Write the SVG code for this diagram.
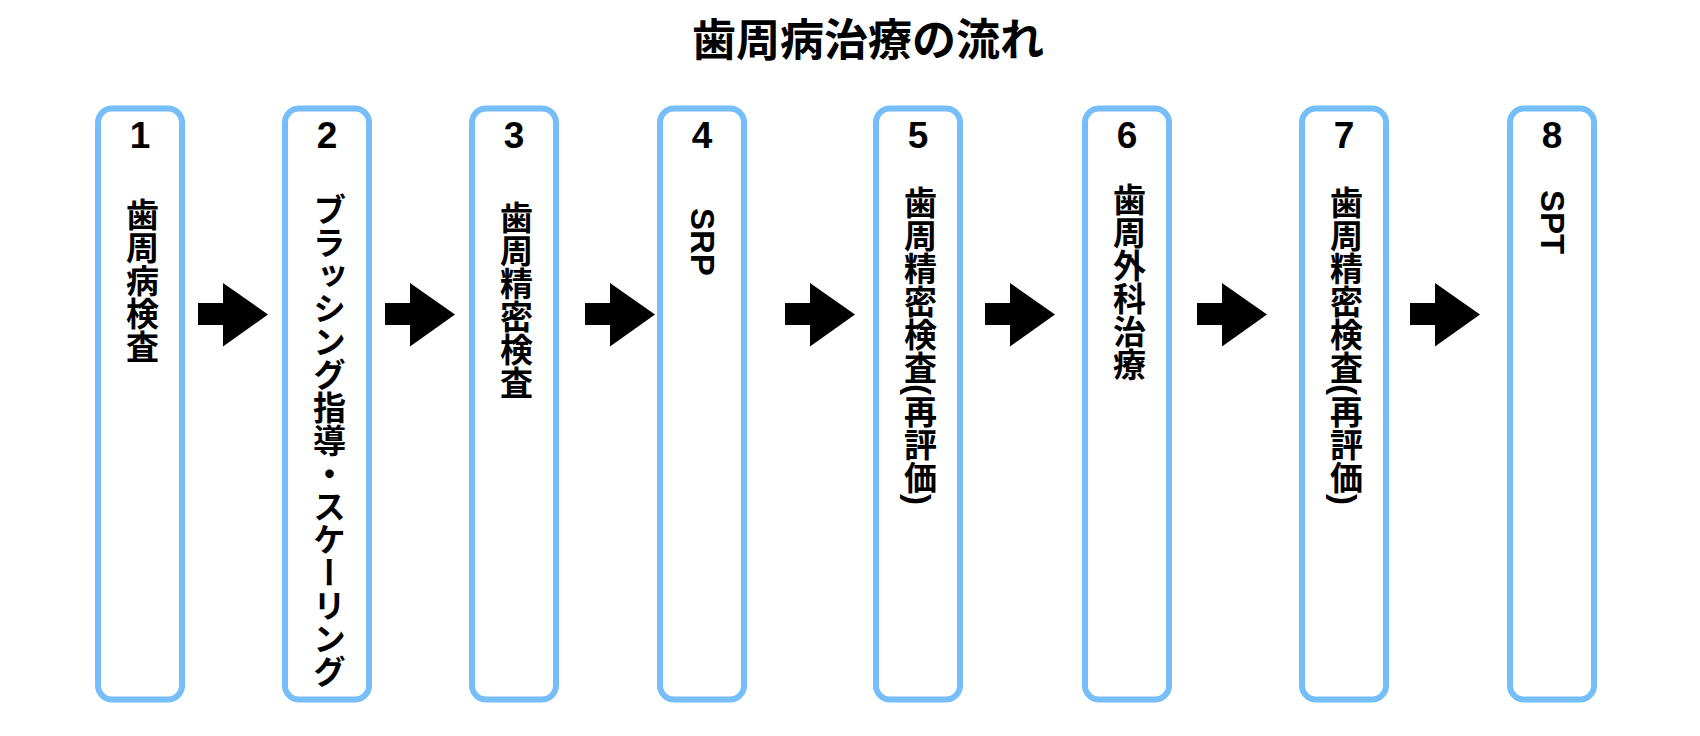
<svg xmlns="http://www.w3.org/2000/svg" width="1700" height="736" viewBox="0 0 1700 736">
<style>
.box{fill:#fff;stroke:#75BEF9;stroke-width:6}
.num{font-family:"Liberation Sans","Noto Sans CJK JP",sans-serif;font-weight:bold;font-size:37px;fill:#000;text-anchor:middle}
.vt{font-family:"Liberation Sans","Noto Sans CJK JP",sans-serif;font-weight:bold;font-size:33px;fill:#000;writing-mode:vertical-rl}
.title{font-family:"Liberation Sans","Noto Sans CJK JP",sans-serif;font-weight:bold;font-size:44px;fill:#000;text-anchor:middle}
.arr{fill:#000}
</style>
<defs>
<path id="arrow" d="M0,303 H25 V283 L70,314.5 L25,346.5 V325 H0 Z"/>
</defs>
<rect width="1700" height="736" fill="#fff"/>
<text class="title" x="868" y="56">歯周病治療の流れ</text>
<g id="node1"><rect class="box" x="98" y="108.5" width="84" height="591" rx="14"/><text class="num" x="140" y="148">1</text><text class="vt" x="140" y="198">歯周病検査</text></g>
<g id="node2"><rect class="box" x="285" y="108.5" width="84" height="591" rx="14"/><text class="num" x="327" y="148">2</text><text class="vt" x="327" y="193">ブラッシング指導・スケーリング</text></g>
<g id="node3"><rect class="box" x="472" y="108.5" width="84" height="591" rx="14"/><text class="num" x="514" y="148">3</text><text class="vt" x="514" y="201">歯周精密検査</text></g>
<g id="node4"><rect class="box" x="660" y="108.5" width="84" height="591" rx="14"/><text class="num" x="702" y="148">4</text><text class="vt" x="702" y="208">SRP</text></g>
<g id="node5"><rect class="box" x="876" y="108.5" width="84" height="591" rx="14"/><text class="num" x="918" y="148">5</text><text class="vt" x="918" y="186">歯周精密検査(再評価)</text></g>
<g id="node6"><rect class="box" x="1085" y="108.5" width="84" height="591" rx="14"/><text class="num" x="1127" y="148">6</text><text class="vt" x="1127" y="183">歯周外科治療</text></g>
<g id="node7"><rect class="box" x="1302" y="108.5" width="84" height="591" rx="14"/><text class="num" x="1344" y="148">7</text><text class="vt" x="1344" y="186">歯周精密検査(再評価)</text></g>
<g id="node8"><rect class="box" x="1510" y="108.5" width="84" height="591" rx="14"/><text class="num" x="1552" y="148">8</text><text class="vt" x="1552" y="190">SPT</text></g>
<g id="connectors" class="arr">
<use href="#arrow" x="198"/>
<use href="#arrow" x="385"/>
<use href="#arrow" x="585"/>
<use href="#arrow" x="785"/>
<use href="#arrow" x="985"/>
<use href="#arrow" x="1197"/>
<use href="#arrow" x="1410"/>
</g>
</svg>
